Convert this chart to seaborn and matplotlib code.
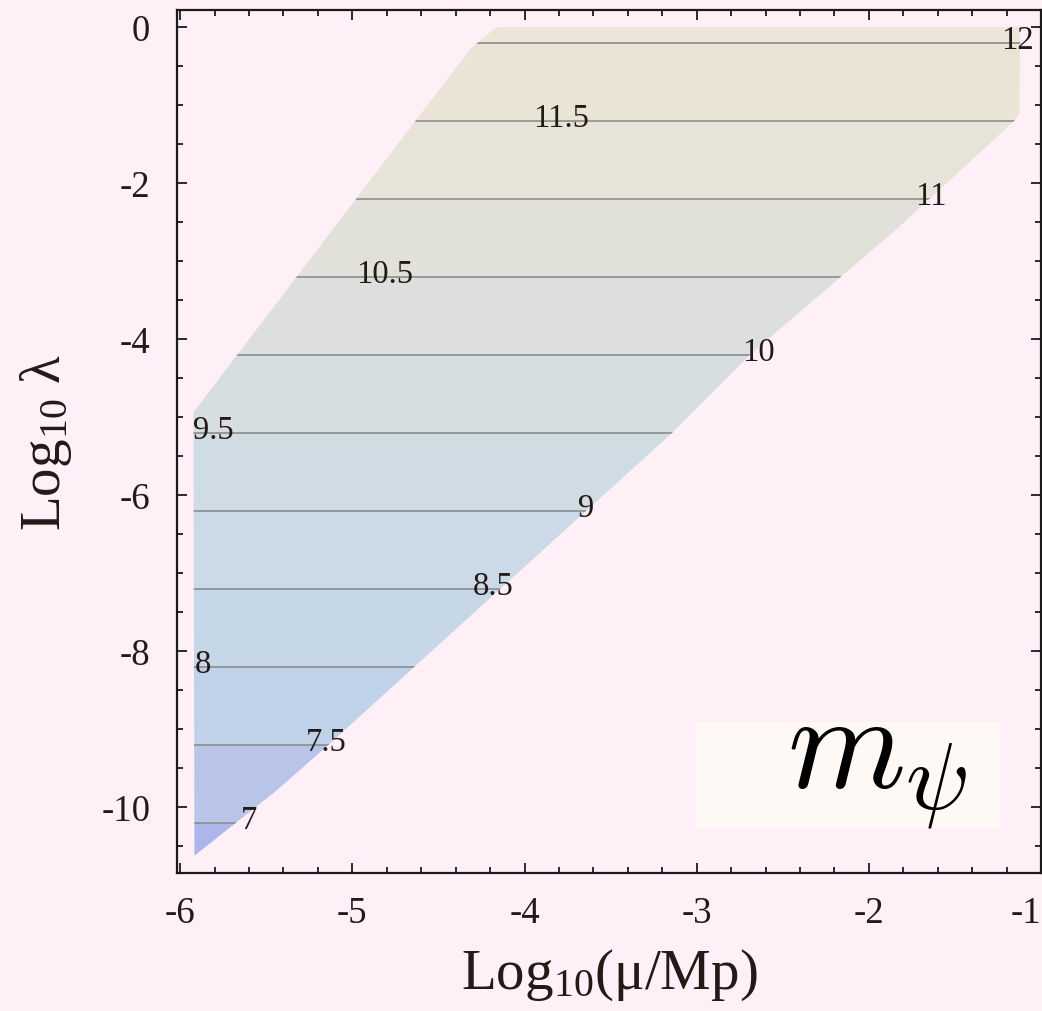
import numpy as np
import pandas as pd
import matplotlib
matplotlib.use("Agg")
import matplotlib.pyplot as plt
from matplotlib.patches import Polygon, Rectangle
from matplotlib.ticker import MultipleLocator
import seaborn as sns

# ─── data ────────────────────────────────────────────────────────────────────
# contour levels of m_psi and the Log10(lambda) value where each one runs
levels = [7, 7.5, 8, 8.5, 9, 9.5, 10, 10.5, 11, 11.5, 12]
level_y = [-10.2, -9.2, -8.2, -7.2, -6.2, -5.2, -4.2, -3.2, -2.2, -1.2, -0.2]
# where the number sits along each contour
label_x = [-5.60, -5.15, -5.87, -4.18, -3.64, -5.81, -2.64, -4.815, -1.64, -3.79, -1.14]

# outline of the allowed region (Log10(mu/Mp), Log10 lambda)
edge_x = [-5.917, -5.923, -4.314, -4.162, -1.121, -1.125, -1.154, -1.838,
          -2.686, -3.139, -3.822, -4.632, -5.133, -5.441]
edge_y = [-10.624, -4.94, -0.28, 0.0, 0.0, -1.115, -1.201, -2.590,
          -4.192, -5.196, -6.564, -8.188, -9.192, -9.791]

# ─── colours ─────────────────────────────────────────────────────────────────
BG = "#FFF0F7"
TEXT_C = "#231916"
LINE_C = "#8c8c8c"
BOX_C = "#FFF9F6"
BAND_COLORS = ["#adb5ea", "#b8c5e9", "#c0d2e9", "#c6d8e8", "#cbdae6", "#d0dce4",
               "#d7dee0", "#dcdfdd", "#e1e1da", "#e6e3d8", "#eae4d7", "#ede6d8"]

sns.set_theme(style="ticks")
plt.rcParams["font.family"] = ["Liberation Serif", "DejaVu Serif"]
plt.rcParams["mathtext.fontset"] = "custom"
plt.rcParams["mathtext.rm"] = "Liberation Serif"
plt.rcParams["mathtext.it"] = "Liberation Serif:italic"
plt.rcParams["axes.unicode_minus"] = False

fig = plt.figure(figsize=(10.42, 10.12), dpi=100)
fig.patch.set_facecolor(BG)
ax = fig.add_axes([0.1696, 0.1361, 0.8295, 0.8531])
ax.set_facecolor(BG)

region = Polygon(np.column_stack([edge_x, edge_y]), closed=True,
                 facecolor="none", edgecolor="none", transform=ax.transData)
ax.add_patch(region)

# filled bands between contour levels
band_edges = [-11.0] + level_y + [0.5]
for lo, hi, c in zip(band_edges[:-1], band_edges[1:], BAND_COLORS):
    span = ax.axhspan(lo, hi, color=c, lw=0, zorder=1)
    span.set_clip_path(region)

# contour lines
lines_df = pd.DataFrame({
    "level": np.repeat(levels, 2),
    "x": np.tile([-6.1, -0.9], len(levels)),
    "y": np.repeat(level_y, 2),
})
sns.lineplot(data=lines_df, x="x", y="y", units="level", estimator=None,
             color=LINE_C, lw=1.2, ax=ax, zorder=2)
for ln in ax.lines:
    ln.set_clip_path(region)

for lv, ly, lx in zip(levels, level_y, label_x):
    ax.text(lx, ly - 0.065, f"{lv:g}", ha="center", va="baseline",
            fontsize=23.5, color=TEXT_C, zorder=3)

# m_psi tag
ax.add_patch(Rectangle((0.601, 0.0525), 0.352, 0.1228, transform=ax.transAxes,
                       facecolor=BOX_C, edgecolor="none", zorder=3))
ax.text(0.706, 0.1015, r"$m_\psi$", transform=ax.transAxes, fontsize=97,
        math_fontfamily="cm", ha="left", va="baseline", color="black", zorder=4)

ax.set_xlim(-6.02, -1.0)
ax.set_ylim(-10.85, 0.218)
ax.set_xticks([-6, -5, -4, -3, -2, -1])
ax.set_xticklabels(["-6", "-5", "-4", "-3", "-2", "-1"])
ax.set_yticks([-10, -8, -6, -4, -2, 0])
ax.set_yticklabels(["-10", "-8", "-6", "-4", "-2", "0"])
ax.xaxis.set_minor_locator(MultipleLocator(0.2))
ax.yaxis.set_minor_locator(MultipleLocator(0.5))
ax.tick_params(which="both", direction="in", top=True, right=True,
               color="#1a1a1a", width=1.3, labelcolor=TEXT_C)
ax.tick_params(which="major", length=7.5, labelsize=26.5)
ax.tick_params(which="minor", length=4.5)
ax.tick_params(axis="x", pad=16)
ax.tick_params(axis="y", pad=19)
ax.get_xticklabels()[-1].set_ha("right")
for sp in ax.spines.values():
    sp.set_color("#1a1a1a")
    sp.set_linewidth(1.6)

ax.set_xlabel(r"Log$_{\mathrm{10}}$(μ/Mp)", fontsize=41, color=TEXT_C, labelpad=12)
ax.set_ylabel(r"Log$_{\mathrm{10}}$ λ", fontsize=41, color=TEXT_C, labelpad=20)

fig.savefig("out.png", dpi=100, facecolor=BG)
